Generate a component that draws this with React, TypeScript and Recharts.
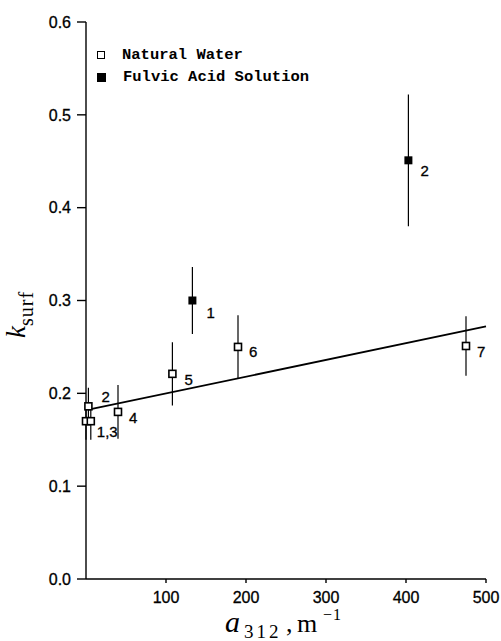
import { ComposedChart, ErrorBar, Scatter, XAxis, YAxis } from 'recharts'

// natural water samples (open squares)
const naturalX = [0, 3, 6, 40, 108, 190, 475]
const naturalY = [0.17, 0.186, 0.17, 0.18, 0.221, 0.25, 0.251]
const naturalErr = [0.02, 0.02, 0.02, 0.029, 0.034, 0.034, 0.032]
const naturalLabels = ['', '2', '1,3', '4', '5', '6', '7']

// fulvic acid solutions (filled squares)
const fulvicX = [133, 403]
const fulvicY = [0.3, 0.451]
const fulvicErr = [0.036, 0.071]
const fulvicLabels = ['1', '2']

// regression line through the natural water points
const fitX = [3, 500]
const fitY = [0.1825, 0.272]

const xTicks = [100, 200, 300, 400, 500]
const yTicks = [0, 0.1, 0.2, 0.3, 0.4, 0.5, 0.6]

const natural = naturalX.map((x, i) => ({ x, y: naturalY[i], err: naturalErr[i], label: naturalLabels[i] }))
const fulvic = fulvicX.map((x, i) => ({ x, y: fulvicY[i], err: fulvicErr[i], label: fulvicLabels[i] }))
const fit = fitX.map((x, i) => ({ x, y: fitY[i] }))

// label placement relative to the marker: [left edge, vertical centre]
const NATURAL_OFFSETS: Record<string, [number, number]> = {
  '2': [13, -10],
  '1,3': [6, 10],
  '4': [11, 6],
  '5': [12, 6],
  '6': [11, 5],
  '7': [11, 6],
}
const FULVIC_OFFSETS: Record<string, [number, number]> = {
  '1': [14, 12],
  '2': [12, 10],
}

const SANS = '"Liberation Sans", Arial, sans-serif'
const SERIF = '"Liberation Serif", "Times New Roman", serif'

function PointLabel({ cx, cy, text, offsets }: { cx: number; cy: number; text: string; offsets: Record<string, [number, number]> }) {
  if (!text) return null
  const [dx, dy] = offsets[text] ?? [10, 0]
  return (
    <text
      x={cx + dx}
      y={cy + dy}
      dominantBaseline="central"
      fontFamily={SANS}
      fontSize={15}
      fill="#000"
      stroke="#000"
      strokeWidth={0.3}
    >
      {text}
    </text>
  )
}

function OpenSquare(props: any) {
  const { cx, cy, payload } = props
  return (
    <g>
      <rect x={cx - 3.5} y={cy - 3.5} width={7} height={7} fill="#fff" stroke="#000" strokeWidth={1.6} />
      <PointLabel cx={cx} cy={cy} text={payload.label} offsets={NATURAL_OFFSETS} />
    </g>
  )
}

function FilledSquare(props: any) {
  const { cx, cy, payload } = props
  return (
    <g>
      <rect x={cx - 4} y={cy - 4} width={8} height={8} fill="#000" />
      <PointLabel cx={cx} cy={cy} text={payload.label} offsets={FULVIC_OFFSETS} />
    </g>
  )
}

function XLabel() {
  return (
    <text y={632} fontFamily={SERIF} fontSize={26} fill="#000">
      <tspan x={225} fontStyle="italic" fontSize={30}>a</tspan>
      <tspan x={244} dy={6} fontSize={19} letterSpacing={3}>312</tspan>
      <tspan x={286} dy={-6}>,</tspan>
      <tspan x={297}>m</tspan>
      <tspan x={323} dy={-12} fontSize={16} letterSpacing={1}>−1</tspan>
    </text>
  )
}

function YLabel() {
  return (
    <text transform="translate(25,338) rotate(-90)" fontFamily={SERIF} fontSize={27} fill="#000">
      <tspan fontStyle="italic">k</tspan>
      <tspan fontSize={20} dy={8} letterSpacing={1}>surf</tspan>
    </text>
  )
}

function Legend() {
  const row = { display: 'flex', alignItems: 'center', height: 22 }
  return (
    <div
      style={{
        position: 'absolute',
        left: 97,
        top: 44,
        fontFamily: '"Liberation Mono", "Courier New", monospace',
        fontWeight: 'bold',
        fontSize: 15.5,
        color: '#000',
      }}
    >
      <div style={row}>
        <span style={{ width: 6, height: 6, border: '1.5px solid #000', marginRight: 17 }} />
        Natural Water
      </div>
      <div style={row}>
        <span style={{ width: 9, height: 9, background: '#000', marginRight: 17 }} />
        Fulvic Acid Solution
      </div>
    </div>
  )
}

const tickStyle = { fill: '#000', fontFamily: SANS, fontSize: 16, stroke: '#000', strokeWidth: 0.3 }

export default function App() {
  return (
    <div style={{ position: 'absolute', left: 0, top: 0, width: 501, height: 641, background: '#fff' }}>
      <ComposedChart width={501} height={641} margin={{ top: 22, right: 15, left: 0, bottom: 0 }}>
        <XAxis
          type="number"
          dataKey="x"
          domain={[0, 500]}
          ticks={xTicks}
          height={62}
          tickSize={4}
          tickMargin={9}
          stroke="#000"
          strokeWidth={1.4}
          tick={tickStyle}
          label={<XLabel />}
        />
        <YAxis
          type="number"
          dataKey="y"
          domain={[0, 0.6]}
          ticks={yTicks}
          width={86}
          tickSize={9}
          tickMargin={6}
          stroke="#000"
          strokeWidth={1.4}
          tickFormatter={(v: number) => v.toFixed(1)}
          tick={tickStyle}
          label={<YLabel />}
        />
        <Scatter data={fit} line={{ stroke: '#000', strokeWidth: 1.8 }} shape={() => <g />} isAnimationActive={false} />
        <Scatter data={natural} shape={<OpenSquare />} isAnimationActive={false}>
          <ErrorBar dataKey="err" direction="y" width={0} stroke="#000" strokeWidth={1.2} isAnimationActive={false} />
        </Scatter>
        <Scatter data={fulvic} shape={<FilledSquare />} isAnimationActive={false}>
          <ErrorBar dataKey="err" direction="y" width={0} stroke="#000" strokeWidth={1.2} isAnimationActive={false} />
        </Scatter>
      </ComposedChart>
      <Legend />
    </div>
  )
}
